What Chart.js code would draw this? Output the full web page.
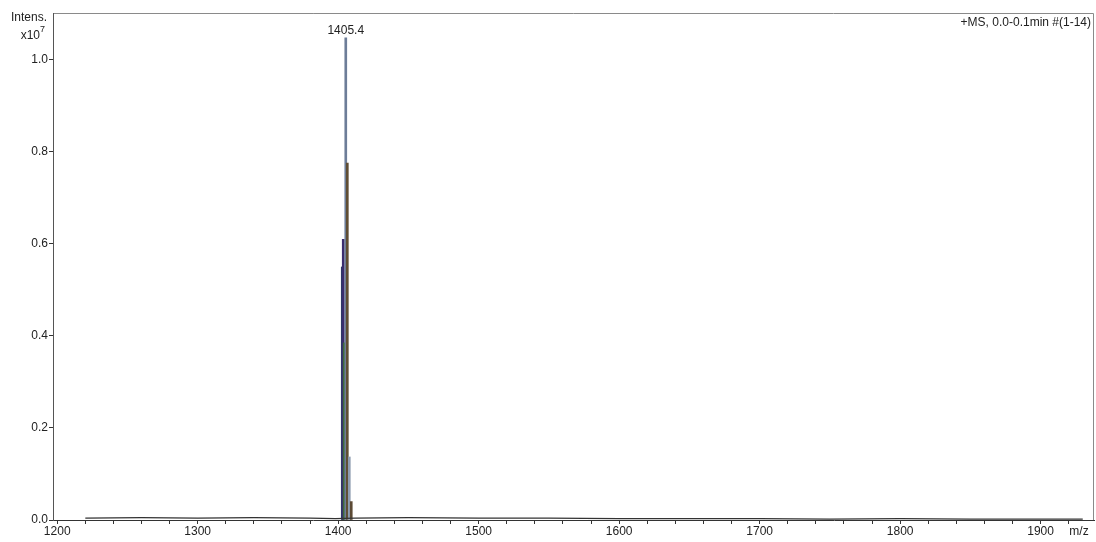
<!DOCTYPE html>
<html>
<head>
<meta charset="utf-8">
<style>
  html, body { margin: 0; padding: 0; background: #fff; }
  #wrap { width: 1096px; height: 542px; }
</style>
<script src="https://cdn.jsdelivr.net/npm/chart.js@4"></script>
</head>
<body>
<div id="wrap"><canvas id="ms"></canvas></div>
<script>
// peak cluster around the labelled ion
const peakMz = [1402.9, 1403.6, 1404.3, 1405.4, 1406.5, 1407.9, 1409.3];
const peakIntens = [0.55, 0.61, 0.385, 1.048, 0.776, 0.137, 0.04];
const peakColors = ["#2c3766", "#3b2d6e", "#3d6b3a", "#6d7d98", "#5f4d33", "#8d9cb0", "#5c4a35"];

// low baseline noise
const baseMz = [1220, 1260, 1300, 1340, 1380, 1398, 1412, 1450, 1500, 1550, 1600, 1650, 1700, 1750, 1800, 1850, 1900, 1930];
const baseIntens = [0.004, 0.005, 0.004, 0.005, 0.004, 0.003, 0.004, 0.005, 0.004, 0.004, 0.003, 0.003, 0.003, 0.002, 0.003, 0.002, 0.002, 0.002];

const xTicksLabelled = [1200, 1300, 1400, 1500, 1600, 1700, 1800, 1900];
const peakLabel = "1405.4";
const titleText = "+MS, 0.0-0.1min #(1-14)";

const FONT = "'Liberation Sans', Arial, sans-serif";

const annotate = {
  id: "annotate",
  beforeDraw(chart) {
    const { ctx, chartArea: a } = chart;
    ctx.save();
    ctx.strokeStyle = "#8a8a8a";
    ctx.lineWidth = 1;
    ctx.beginPath();
    ctx.moveTo(a.left, a.top + 0.5);
    ctx.lineTo(a.right - 0.5, a.top + 0.5);
    ctx.lineTo(a.right - 0.5, a.bottom);
    ctx.stroke();
    ctx.restore();
  },
  afterDraw(chart) {
    const { ctx, chartArea: a, scales } = chart;
    ctx.save();
    ctx.fillStyle = "#222";
    ctx.font = "12px " + FONT;
    ctx.textAlign = "right";
    ctx.textBaseline = "alphabetic";
    ctx.fillText("Intens.", 47, 21);
    ctx.fillText("x10", 40, 39);
    ctx.font = "9px " + FONT;
    ctx.textAlign = "left";
    ctx.fillText("7", 40, 32);

    ctx.font = "12px " + FONT;
    ctx.textAlign = "center";
    const px = scales.x.getPixelForValue(1405.4);
    ctx.fillText(peakLabel, px, 34);

    ctx.textAlign = "right";
    ctx.fillText(titleText, a.right - 3, 26);

    ctx.textAlign = "center";
    ctx.fillText("m/z", 1079, 535);
    ctx.restore();
  }
};

new Chart(document.getElementById("ms"), {
  type: "bar",
  data: {
    datasets: [
      {
        type: "line",
        data: baseMz.map((m, i) => ({ x: m, y: baseIntens[i] })),
        borderColor: "#333",
        borderWidth: 1.3,
        pointRadius: 0,
        tension: 0
      },
      {
        type: "bar",
        data: peakMz.map((m, i) => ({ x: m, y: peakIntens[i] })),
        backgroundColor: peakColors,
        barThickness: 2,
        grouped: false
      }
    ]
  },
  options: {
    responsive: true,
    maintainAspectRatio: false,
    animation: false,
    layout: { padding: { top: 13, right: 2, bottom: 0, left: 0 } },
    plugins: {
      legend: { display: false },
      tooltip: { enabled: false }
    },
    scales: {
      x: {
        type: "linear",
        offset: false,
        min: 1197,
        max: 1938,
        border: { color: "#333", width: 1 },
        grid: { offset: false, drawOnChartArea: false, tickLength: 4, color: "#333" },
        afterBuildTicks(scale) {
          const t = [];
          for (let v = 1200; v <= 1920; v += 20) t.push({ value: v });
          scale.ticks = t;
        },
        afterFit(scale) { scale.height = 22; },
        ticks: {
          autoSkip: false,
          maxRotation: 0,
          padding: 0,
          color: "#222",
          font: { family: FONT, size: 12 },
          callback: v => xTicksLabelled.includes(v) ? String(v) : ""
        }
      },
      y: {
        min: 0,
        max: 1.102,
        border: { color: "#555", width: 1 },
        grid: { drawOnChartArea: false, tickLength: 4, color: "#333" },
        afterFit(scale) { scale.width = 53; },
        ticks: {
          stepSize: 0.2,
          includeBounds: false,
          padding: 1,
          color: "#222",
          font: { family: FONT, size: 12 },
          callback: v => v.toFixed(1)
        }
      }
    }
  },
  plugins: [annotate]
});
</script>
</body>
</html>
